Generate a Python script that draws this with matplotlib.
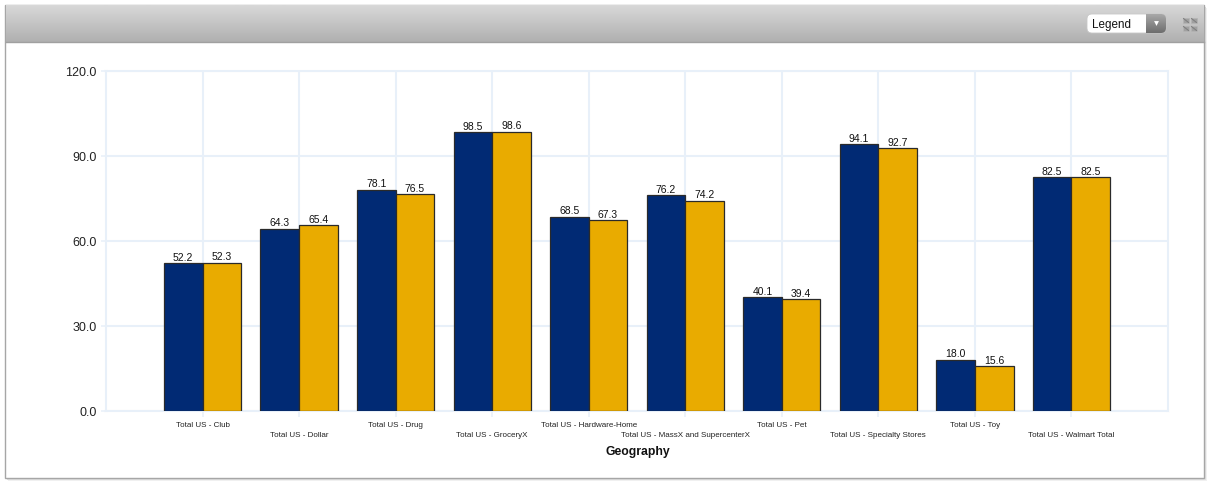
import numpy as np
import matplotlib
matplotlib.use("Agg")
import matplotlib.pyplot as plt
from matplotlib.patches import Rectangle, FancyBboxPatch

plt.rcParams['font.family'] = ['Liberation Sans', 'DejaVu Sans']

categories = ['Total US - Club', 'Total US - Dollar', 'Total US - Drug', 'Total US - GroceryX',
              'Total US - Hardware-Home', 'Total US - MassX and SupercenterX', 'Total US - Pet',
              'Total US - Specialty Stores', 'Total US - Toy', 'Total US - Walmart Total']
series_a = [52.2, 64.3, 78.1, 98.5, 68.5, 76.2, 40.1, 94.1, 18.0, 82.5]
series_b = [52.3, 65.4, 76.5, 98.6, 67.3, 74.2, 39.4, 92.7, 15.6, 82.5]
y_ticks = [0, 30, 60, 90, 120]

W, H = 1211, 485
GRID = '#e8f0f9'
fig = plt.figure(figsize=(W / 100, H / 100), dpi=100, facecolor='white')

# window chrome, drawn in pixel coordinates
bg = fig.add_axes([0, 0, 1, 1])
bg.set_xlim(0, W)
bg.set_ylim(H, 0)
bg.axis('off')
for off, col in [(3, '#f0f0f0'), (2, '#e0e0e0')]:
    bg.add_patch(Rectangle((5 + off, 5.5 + off), 1199, 473, fc=col, ec='none'))
bg.add_patch(Rectangle((5, 5.5), 1199, 473, fc='white', ec='#a6a6a6', lw=1))
header = np.linspace(0, 1, 36).reshape(-1, 1)
bg.imshow(header, extent=(5.5, 1203.5, 43, 6), cmap=matplotlib.colors.LinearSegmentedColormap.from_list(
    'hdr', ['#d8d8d8', '#b0b0b0']), aspect='auto', zorder=2)
bg.plot([5.5, 1203.5], [42.5, 42.5], color='#a0a0a0', lw=1, zorder=3)

# legend dropdown
bg.add_patch(FancyBboxPatch((1087, 15), 79, 19, boxstyle='round,pad=0,rounding_size=5',
                            fc='white', ec='#c8c8c8', lw=0.6, zorder=4))
btn = bg.imshow(header, extent=(1146, 1166, 34, 15), aspect='auto', zorder=5,
                cmap=matplotlib.colors.LinearSegmentedColormap.from_list('btn', ['#a8a8a8', '#6e6e6e']))
btn.set_clip_path(FancyBboxPatch((1087, 15), 79, 19, boxstyle='round,pad=0,rounding_size=5',
                                 transform=bg.transData))
bg.plot([1155.5], [24], marker='v', ms=3.5, color='white', mec='none', zorder=6)
bg.text(1092, 25, 'Legend', fontsize=8.4, va='center', ha='left', color='#111111', zorder=6)

# collapse icon
for ix, iy in [(1183, 19), (1191, 19), (1183, 27), (1191, 27)]:
    bg.add_patch(Rectangle((ix, iy), 6, 5, fc='#a0a0a0', ec='#b4b4b4', lw=0.5, zorder=4))
    bg.plot([ix + 0.5, ix + 5.5], [iy + 0.5, iy + 4.5], color='#7c7c7c', lw=0.7, zorder=5)
bg.set_xlim(0, W)
bg.set_ylim(H, 0)

# chart area
left, right, top, bottom = 106, 1168, 72, 411.5
ax = fig.add_axes([left / W, 1 - bottom / H, (right - left) / W, (bottom - top) / H])
x = np.arange(len(categories))
bar_w = 0.4
ax.set_xlim(-1, 10)
ax.set_ylim(0, 120)
ax.patch.set_alpha(0)
ax.set_axisbelow(True)
ax.grid(True, color=GRID, lw=1.5)
ax.bar(x - bar_w / 2, series_a, bar_w, color='#012a74', edgecolor='#2a2a2a', lw=0.9, zorder=3)
ax.bar(x + bar_w / 2, series_b, bar_w, color='#e9ab00', edgecolor='#2a2a2a', lw=0.9, zorder=3)

for i in x:
    ax.text(i - bar_w / 2, series_a[i] + 0.45, f'{series_a[i]:.1f}', ha='center', va='bottom',
            fontsize=7.5, color='#111111', zorder=4)
    ax.text(i + bar_w / 2, series_b[i] + 0.45, f'{series_b[i]:.1f}', ha='center', va='bottom',
            fontsize=7.5, color='#111111', zorder=4)

for s in ax.spines.values():
    s.set_color(GRID)
    s.set_linewidth(1.5)
ax.set_yticks(y_ticks)
ax.set_yticklabels([f'{v:.1f}' for v in y_ticks], fontsize=9, color='#222222')
ax.tick_params(axis='y', length=3.6, width=1.1, color=GRID, pad=3)
ax.set_xticks(x)
ax.set_xticklabels([])
ax.tick_params(axis='x', length=4.2, width=1.1, color=GRID)

# staggered category labels
for i, name in enumerate(categories):
    ypx = 426 if i % 2 == 0 else 436
    bg.text(left + (i + 1) * (right - left) / 11, ypx, name, fontsize=5.75, ha='center',
            va='center', color='#222222', zorder=5)
bg.text(637.5, 452, 'Geography', fontsize=8.8, fontweight='bold', ha='center', va='center',
        color='#111111', zorder=5)

fig.savefig('out.png', dpi=100)
